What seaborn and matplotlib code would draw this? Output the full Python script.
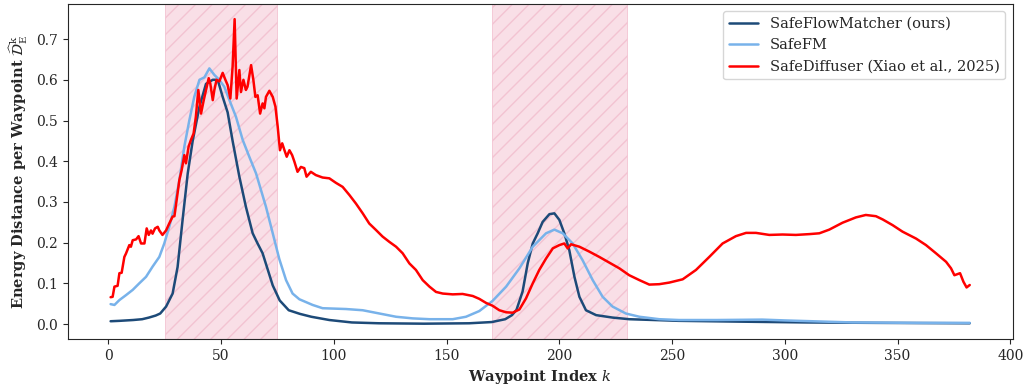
import pandas as pd
import matplotlib.pyplot as plt
import seaborn as sns

# waypoint index / energy distance
k_sfm = [1, 5, 11, 15, 18, 21, 23, 25.6, 28.5, 30.7, 33, 35.2, 37.4, 40.4, 43.3, 46.3, 48.5, 50.7, 52.9, 55.1,
         58.1, 61, 64, 66, 68.4, 72.9, 76, 80, 85, 90, 98, 108, 120, 140, 160, 170, 176, 179, 181, 183.7,
         186, 188.2, 190.4, 192.6, 195.6, 197.8, 200, 202.2, 204.4, 206.7, 208.9, 211.8, 216.3, 223.6, 231,
         253, 280, 310, 340, 382]
v_sfm = [0.007, 0.008, 0.010, 0.012, 0.016, 0.021, 0.026, 0.043, 0.075, 0.14, 0.26, 0.37, 0.45, 0.534, 0.59,
         0.60, 0.60, 0.558, 0.52, 0.45, 0.362, 0.288, 0.223, 0.20, 0.174, 0.095, 0.058, 0.034, 0.025, 0.018,
         0.010, 0.004, 0.002, 0.001, 0.002, 0.005, 0.012, 0.022, 0.035, 0.08, 0.15, 0.198, 0.223, 0.251, 0.270,
         0.272, 0.256, 0.223, 0.182, 0.116, 0.067, 0.034, 0.022, 0.016, 0.012, 0.008, 0.006, 0.004, 0.003, 0.002]

k_fm = [1, 2.7, 4.9, 7.8, 10.8, 13.7, 16.7, 19.6, 22.6, 24.8, 27, 29.3, 31.5, 33.7, 35.9, 38.1, 40.4, 42.6,
        44.8, 47, 49.2, 51.4, 53.7, 56.6, 59.6, 62.5, 65.5, 67.7, 69.9, 72.9, 75.8, 78.8, 81.7, 84.7, 90.6, 95,
        105.4, 112.8, 120.2, 127.6, 135, 142.4, 152.7, 158.6, 164.5, 170.4, 176.4, 182.3, 188.2, 194.1, 197.8,
        201.5, 205.9, 210.3, 214.8, 219.2, 223.6, 229.5, 235.5, 244.3, 253, 270, 290, 300, 330, 360, 382]
v_fm = [0.049, 0.047, 0.059, 0.071, 0.084, 0.10, 0.116, 0.141, 0.165, 0.198, 0.239, 0.288, 0.354, 0.436, 0.50,
        0.558, 0.60, 0.606, 0.628, 0.612, 0.60, 0.583, 0.55, 0.509, 0.452, 0.411, 0.37, 0.329, 0.288, 0.223,
        0.160, 0.108, 0.075, 0.061, 0.047, 0.039, 0.037, 0.034, 0.026, 0.018, 0.014, 0.012, 0.012, 0.018, 0.032,
        0.057, 0.092, 0.137, 0.19, 0.223, 0.232, 0.223, 0.198, 0.157, 0.108, 0.067, 0.043, 0.026, 0.018, 0.012,
        0.010, 0.010, 0.011, 0.009, 0.004, 0.003, 0.003]

k_sd = [1, 1.9, 2.7, 4.1, 4.9, 5.9, 7.1, 7.8, 9.3, 10, 10.8, 12.3, 13.4, 14.5, 16, 17, 17.9, 18.9, 19.6, 20.7,
        21.9, 22.6, 24, 25.6, 27, 28.5, 29.3, 30.3, 31.5, 32.5, 33.7, 34.4, 35.6, 36.6, 37.8, 38.8, 39.9, 41.1,
        42.3, 43.3, 44.5, 45.2, 46.3, 47, 48, 49.2, 50.7, 51.9, 52.9, 54.1, 55.1, 56, 56.9, 58.1, 58.8, 59.9,
        61, 61.7, 63.3, 64.3, 65.2, 66.2, 67.3, 68.4, 69.2, 69.9, 71.4, 72.9, 74.1, 75.1, 76.1, 77.1, 78.1,
        79.1, 80.3, 81.5, 82.5, 83.9, 85.4, 86.9, 87.9, 89.8, 92, 95, 98, 100.9, 103.9, 106.9, 109.8, 112.8,
        115.7, 118.7, 121.6, 124.6, 127.6, 130.5, 133.5, 136.4, 139.4, 142.4, 145.3, 148.3, 152.7, 157.1,
        161.6, 164.5, 167.5, 170.4, 173.4, 176.4, 179.3, 182.3, 185.2, 188.2, 191.1, 194.1, 197.1, 200, 202.2,
        203.7, 205.2, 208.9, 213.3, 217.7, 222.2, 226.6, 231, 235.5, 239.9, 244.3, 248.8, 254.7, 260.6, 266.5,
        272.4, 278.3, 282.8, 287.2, 293.1, 299, 304.9, 310.9, 315.3, 319.7, 325.6, 331.5, 335.9, 340.4, 343.4,
        347.8, 352.2, 358.2, 362.6, 367, 371.5, 373.7, 375.2, 377.7, 379.2, 380.6, 382]
v_sd = [0.066, 0.067, 0.092, 0.094, 0.125, 0.126, 0.165, 0.173, 0.194, 0.19, 0.206, 0.208, 0.216, 0.198, 0.198,
        0.235, 0.219, 0.23, 0.222, 0.235, 0.239, 0.23, 0.219, 0.23, 0.247, 0.264, 0.265, 0.305, 0.354, 0.378,
        0.415, 0.395, 0.436, 0.452, 0.468, 0.509, 0.575, 0.517, 0.55, 0.575, 0.604, 0.591, 0.55, 0.575, 0.6,
        0.596, 0.617, 0.6, 0.587, 0.554, 0.632, 0.749, 0.554, 0.624, 0.57, 0.6, 0.575, 0.583, 0.636, 0.6,
        0.558, 0.562, 0.517, 0.542, 0.53, 0.558, 0.573, 0.558, 0.534, 0.485, 0.427, 0.444, 0.427, 0.411,
        0.427, 0.415, 0.399, 0.374, 0.386, 0.383, 0.362, 0.374, 0.366, 0.36, 0.358, 0.347, 0.337, 0.317,
        0.296, 0.272, 0.247, 0.231, 0.215, 0.202, 0.19, 0.174, 0.149, 0.133, 0.108, 0.092, 0.079, 0.075,
        0.073, 0.074, 0.069, 0.062, 0.052, 0.045, 0.034, 0.029, 0.028, 0.036, 0.063, 0.1, 0.133, 0.161,
        0.186, 0.194, 0.198, 0.186, 0.196, 0.19, 0.178, 0.165, 0.151, 0.137, 0.12, 0.108, 0.097, 0.098,
        0.102, 0.11, 0.133, 0.165, 0.198, 0.216, 0.224, 0.224, 0.219, 0.22, 0.219, 0.221, 0.223, 0.232,
        0.249, 0.262, 0.268, 0.265, 0.257, 0.243, 0.227, 0.21, 0.194, 0.174, 0.153, 0.137, 0.12, 0.125,
        0.104, 0.09, 0.096]

# obstacle regions
spans = [(25, 75), (170, 230)]

sns.set_style('ticks')
plt.rcParams['font.family'] = ['DejaVu Serif']
plt.rcParams['mathtext.fontset'] = 'dejavuserif'

fig, ax = plt.subplots(figsize=(10.25, 3.9), dpi=100)
fig.subplots_adjust(left=0.066, right=0.988, top=0.99, bottom=0.131)

for a, b in spans:
    ax.axvspan(a, b, facecolor='#f9dfe7', edgecolor='#f3c3d2', hatch='//', linewidth=0.6, zorder=0)

sns.lineplot(x=k_sfm, y=v_sfm, ax=ax, color='#1d4a78', linewidth=1.8, label='SafeFlowMatcher (ours)',
             estimator=None, sort=False)
sns.lineplot(x=k_fm, y=v_fm, ax=ax, color='#78b2ea', linewidth=1.8, label='SafeFM',
             estimator=None, sort=False)
sns.lineplot(x=k_sd, y=v_sd, ax=ax, color='red', linewidth=1.8, label='SafeDiffuser (Xiao et al., 2025)',
             estimator=None, sort=False)

ax.set_xticks(range(0, 401, 50))
ax.set_yticks([0.0, 0.1, 0.2, 0.3, 0.4, 0.5, 0.6, 0.7])
ax.tick_params(labelsize=10)
ax.set_xlabel(r'Waypoint Index $k$', fontweight='bold', fontsize=10.5)
ax.set_ylabel(r'Energy Distance per Waypoint $\widehat{\mathcal{D}}_{\mathrm{E}}^{\mathrm{k}}$',
              fontweight='bold', fontsize=10.5)
ax.legend(loc='upper right', fontsize=10.5)

plt.savefig('out.png')
